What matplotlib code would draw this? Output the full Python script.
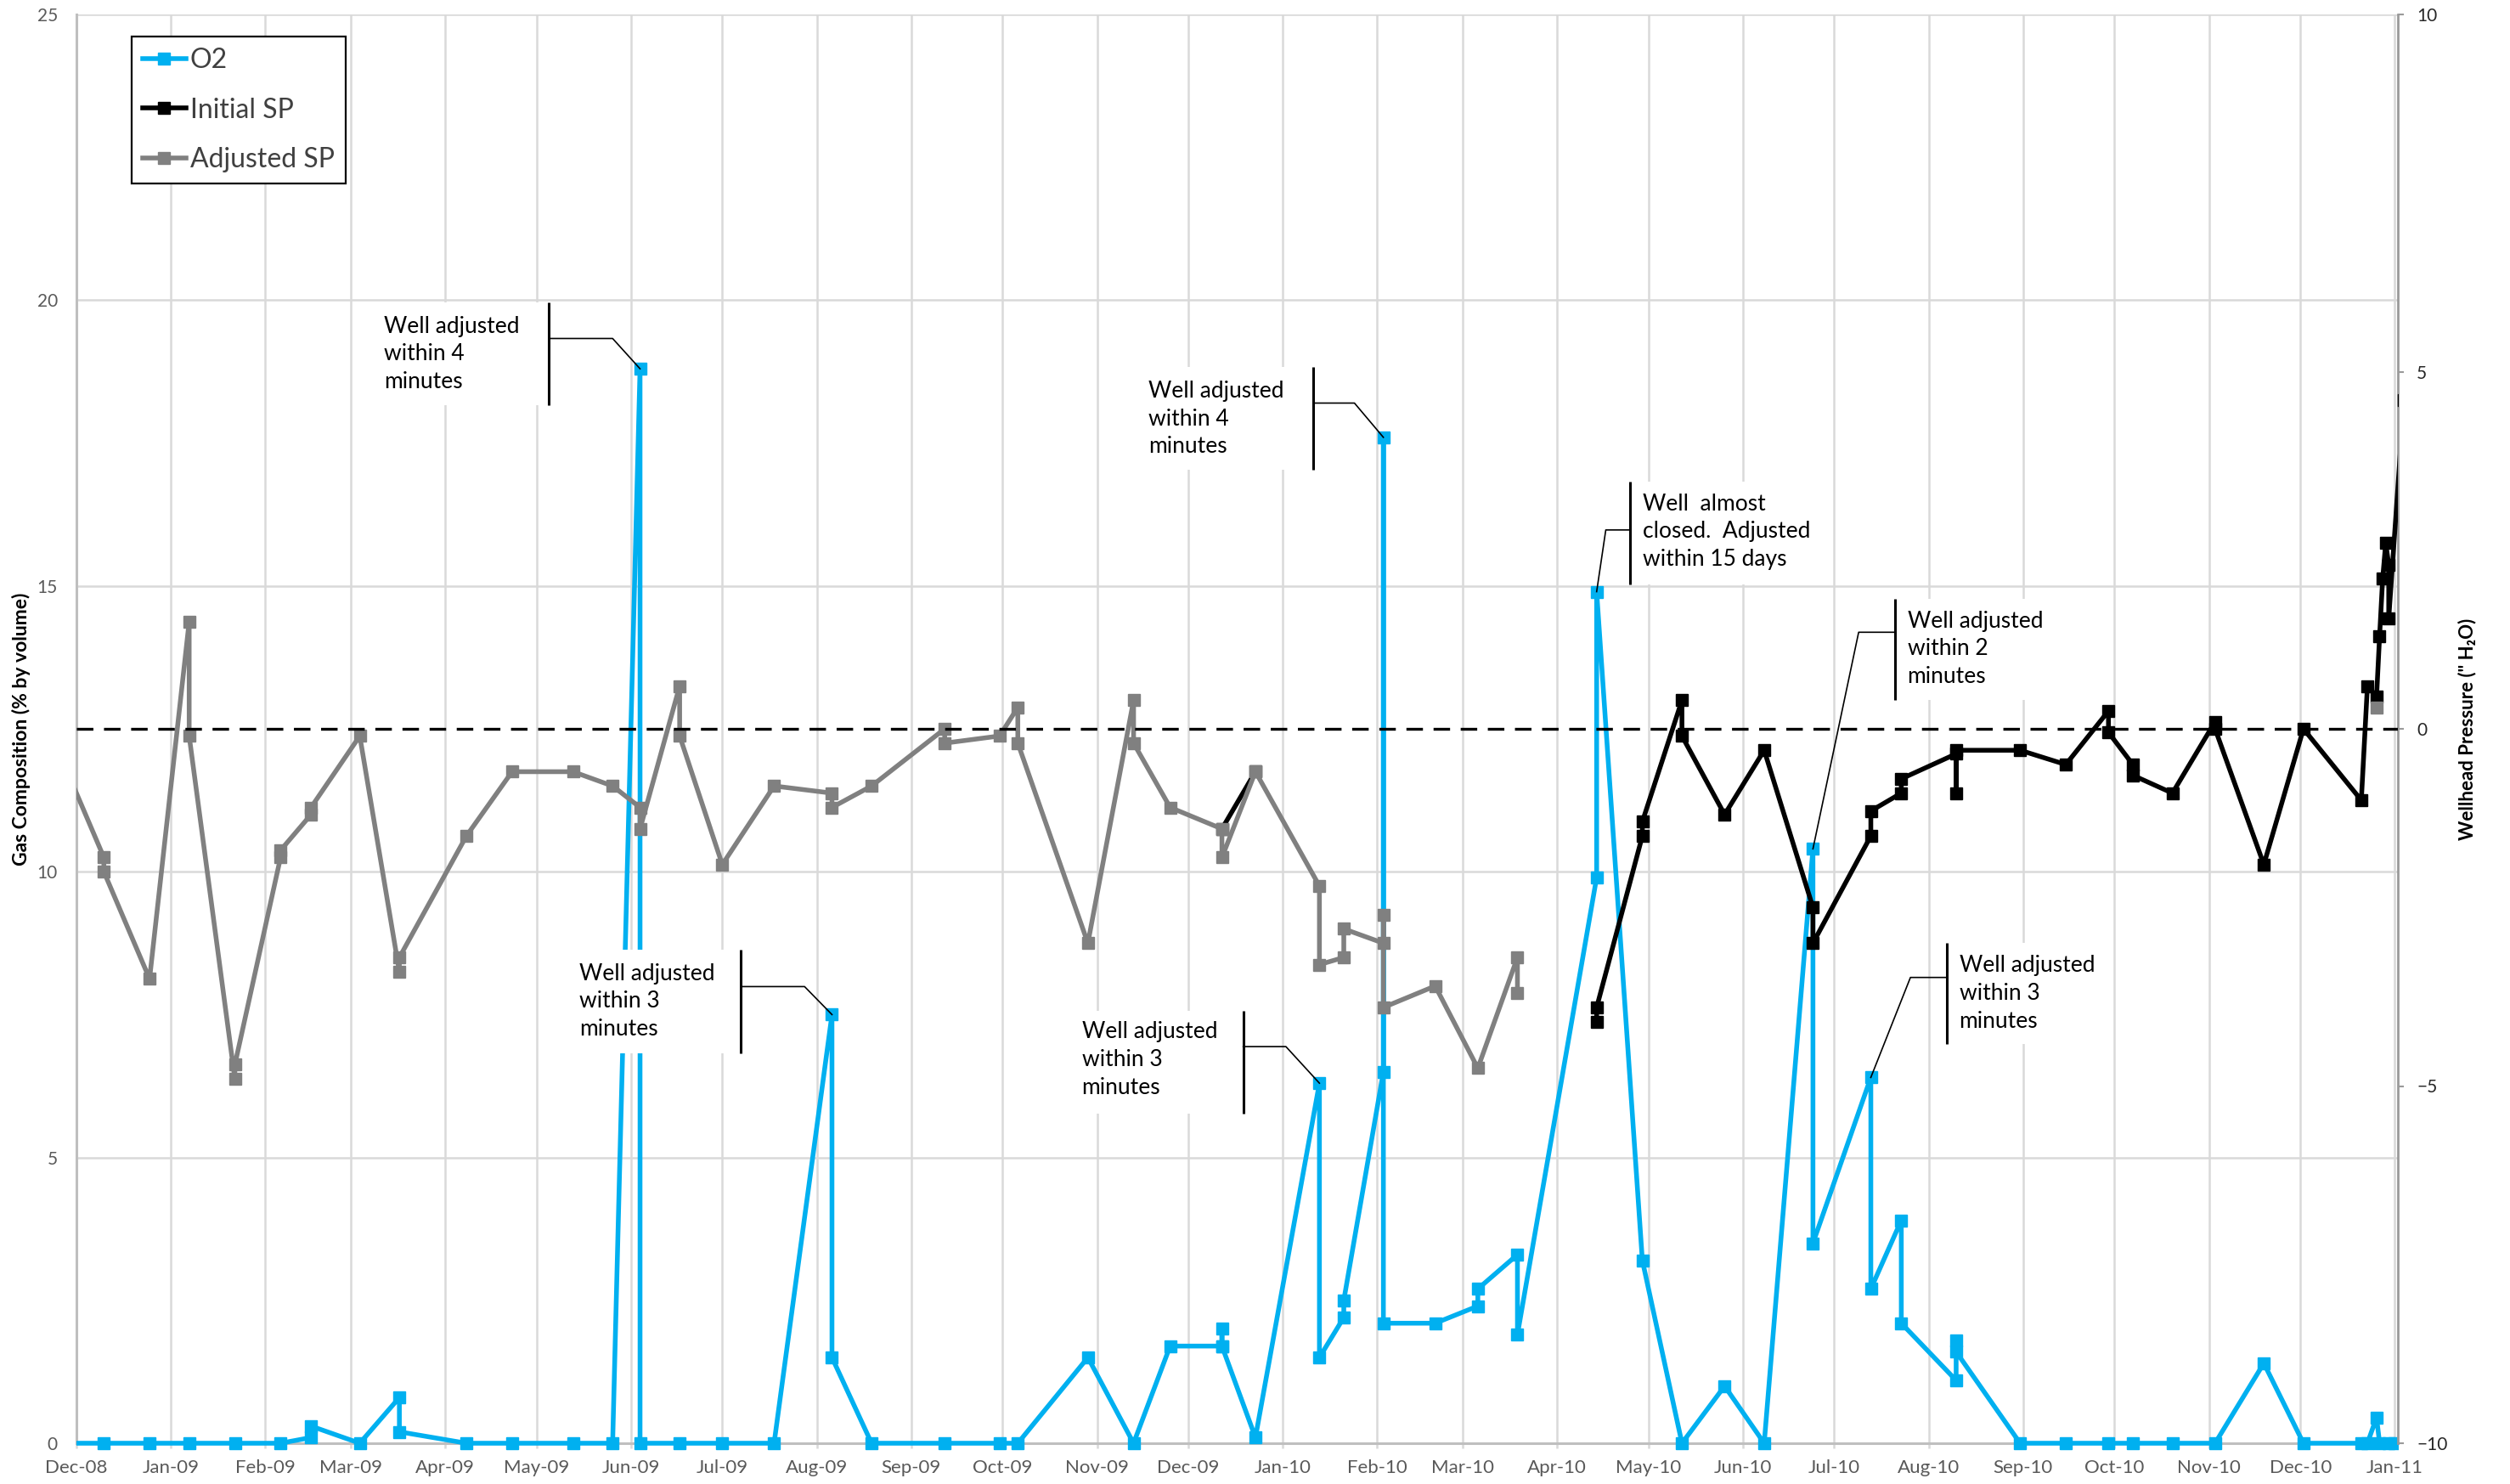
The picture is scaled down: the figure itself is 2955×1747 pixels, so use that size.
import matplotlib
matplotlib.use("Agg")
import matplotlib.pyplot as plt
import matplotlib.dates as mdates
from matplotlib.lines import Line2D
from matplotlib.patches import Rectangle
from matplotlib import font_manager
import numpy as np
import pandas as pd

# ---------------------------------------------------------------- data
o2_dates = [
    "2008-11-25", "2008-12-10", "2008-12-25", "2009-01-07", "2009-01-22",
    "2009-02-06", "2009-02-16", "2009-02-16", "2009-03-04", "2009-03-17",
    "2009-03-17", "2009-04-08", "2009-04-23", "2009-05-13", "2009-05-26",
    "2009-06-04", "2009-06-04", "2009-06-17", "2009-07-01", "2009-07-18",
    "2009-08-06", "2009-08-06", "2009-08-19", "2009-09-12", "2009-09-30",
    "2009-10-06", "2009-10-29", "2009-11-13", "2009-11-25", "2009-12-12",
    "2009-12-12", "2009-12-12", "2009-12-23", "2010-01-13", "2010-01-13",
    "2010-01-21", "2010-01-21", "2010-02-03", "2010-02-03", "2010-02-03",
    "2010-02-20", "2010-03-06", "2010-03-06", "2010-03-19", "2010-03-19",
    "2010-04-14", "2010-04-14", "2010-04-29", "2010-05-12", "2010-05-26",
    "2010-06-08", "2010-06-24", "2010-06-24", "2010-07-13", "2010-07-13",
    "2010-07-23", "2010-07-23", "2010-08-10", "2010-08-10", "2010-08-10",
    "2010-08-31", "2010-09-15", "2010-09-29", "2010-10-07", "2010-10-20",
    "2010-11-03", "2010-11-19", "2010-12-02", "2010-12-21", "2010-12-23",
    "2010-12-26", "2010-12-27", "2010-12-30", "2011-01-01",
]
o2_values = [
    0, 0, 0, 0, 0,
    0, 0.1, 0.3, 0, 0.8,
    0.2, 0, 0, 0, 0,
    18.8, 0, 0, 0, 0,
    7.5, 1.5, 0, 0, 0,
    0, 1.5, 0, 1.7, 1.7,
    2.0, 1.7, 0.1, 6.3, 1.5,
    2.2, 2.5, 6.5, 17.6, 2.1,
    2.1, 2.4, 2.7, 3.3, 1.9,
    9.9, 14.9, 3.2, 0, 1.0,
    0, 10.4, 3.5, 6.4, 2.7,
    3.9, 2.1, 1.1, 1.8, 1.6,
    0, 0, 0, 0, 0,
    0, 1.4, 0, 0, 0,
    0.45, 0, 0, 0,
]

initial_sp_dates = [
    "2009-12-12", "2009-12-23", "2010-02-15",
    "2010-04-14", "2010-04-14", "2010-04-29", "2010-04-29", "2010-05-12",
    "2010-05-12", "2010-05-26", "2010-06-08", "2010-06-24", "2010-06-24",
    "2010-07-13", "2010-07-13", "2010-07-23", "2010-07-23", "2010-08-10",
    "2010-08-10", "2010-08-10", "2010-08-31", "2010-09-15", "2010-09-29",
    "2010-09-29", "2010-10-07", "2010-10-07", "2010-10-20", "2010-11-03",
    "2010-11-03", "2010-11-19", "2010-12-02", "2010-12-21", "2010-12-23",
    "2010-12-26", "2010-12-27", "2010-12-28", "2010-12-29", "2010-12-30",
    "2010-12-30", "2011-01-04",
]
initial_sp_values = [
    -1.4, -0.6, np.nan,
    -4.1, -3.9, -1.5, -1.3, 0.4,
    -0.1, -1.2, -0.3, -2.5, -3.0,
    -1.5, -1.15, -0.9, -0.7, -0.35,
    -0.9, -0.3, -0.3, -0.5, 0.25,
    -0.05, -0.5, -0.65, -0.9, 0.1,
    0.0, -1.9, 0.0, -1.0, 0.6,
    0.45, 1.3, 2.1, 2.6, 2.3,
    1.55, 4.6,
]

adjusted_sp_dates = [
    "2008-11-25", "2008-12-10", "2008-12-10", "2008-12-25", "2009-01-07",
    "2009-01-07", "2009-01-22", "2009-01-22", "2009-02-06", "2009-02-06",
    "2009-02-16", "2009-02-16", "2009-03-04", "2009-03-17", "2009-03-17",
    "2009-04-08", "2009-04-23", "2009-05-13", "2009-05-26", "2009-06-04",
    "2009-06-04", "2009-06-17", "2009-06-17", "2009-07-01", "2009-07-18",
    "2009-08-06", "2009-08-06", "2009-08-19", "2009-09-12", "2009-09-12",
    "2009-09-30", "2009-10-06", "2009-10-06", "2009-10-29", "2009-11-13",
    "2009-11-13", "2009-11-25", "2009-12-12", "2009-12-12", "2009-12-23",
    "2010-01-13", "2010-01-13", "2010-01-21", "2010-01-21", "2010-02-03",
    "2010-02-03", "2010-02-03", "2010-02-20", "2010-03-06", "2010-03-19",
    "2010-03-19", "2010-08-01", "2010-12-26",
]
adjusted_sp_values = [
    -0.3, -1.8, -2.0, -3.5, 1.5,
    -0.1, -4.9, -4.7, -1.8, -1.7,
    -1.2, -1.1, -0.1, -3.4, -3.2,
    -1.5, -0.6, -0.6, -0.8, -1.1,
    -1.4, 0.6, -0.1, -1.9, -0.8,
    -0.9, -1.1, -0.8, 0.0, -0.2,
    -0.1, 0.3, -0.2, -3.0, 0.4,
    -0.2, -1.1, -1.4, -1.8, -0.6,
    -2.2, -3.3, -3.2, -2.8, -3.0,
    -2.6, -3.9, -3.6, -4.75, -3.2,
    -3.7, np.nan, 0.3,
]

month_labels = [
    "Dec-08", "Jan-09", "Feb-09", "Mar-09", "Apr-09", "May-09", "Jun-09",
    "Jul-09", "Aug-09", "Sep-09", "Oct-09", "Nov-09", "Dec-09", "Jan-10",
    "Feb-10", "Mar-10", "Apr-10", "May-10", "Jun-10", "Jul-10", "Aug-10",
    "Sep-10", "Oct-10", "Nov-10", "Dec-10", "Jan-11",
]
gas_ticks = [0, 5, 10, 15, 20, 25]
pressure_ticks = [-10, -5, 0, 5, 10]
setpoint_pressure = 0

# callouts: text, target (date, O2 %), box span in days from target,
# vertical box span, leader height, leader bend (days), text anchor
callouts = [
    dict(text="Well adjusted\nwithin 4\nminutes", date="2009-06-04", value=18.8,
         box=(-88, -30), ybox=(18.17, 19.96), lead_y=19.33, bend=-9,
         tx=-84, ty=19.06, bar="right"),
    dict(text="Well adjusted\nwithin 3\nminutes", date="2009-08-06", value=7.5,
         box=(-87, -30), ybox=(6.82, 8.64), lead_y=7.99, bend=-9,
         tx=-83, ty=7.73, bar="right"),
    dict(text="Well adjusted\nwithin 3\nminutes", date="2010-01-13", value=6.3,
         box=(-83, -25), ybox=(5.77, 7.56), lead_y=6.94, bend=-11,
         tx=-78, ty=6.71, bar="right"),
    dict(text="Well adjusted\nwithin 4\nminutes", date="2010-02-03", value=17.6,
         box=(-81, -23), ybox=(17.03, 18.83), lead_y=18.2, bend=-9.5,
         tx=-77, ty=17.92, bar="right"),
    dict(text="Well  almost\nclosed.  Adjusted\nwithin 15 days", date="2010-04-14",
         value=14.9, box=(11, 76), ybox=(15.03, 16.83), lead_y=15.98, bend=3,
         tx=15, ty=15.95, bar="left"),
    dict(text="Well adjusted\nwithin 2\nminutes", date="2010-06-24", value=10.4,
         box=(27, 80), ybox=(13.0, 14.78), lead_y=14.19, bend=15,
         tx=31, ty=13.9, bar="left"),
    dict(text="Well adjusted\nwithin 3\nminutes", date="2010-07-13", value=6.4,
         box=(25, 77), ybox=(6.98, 8.75), lead_y=8.15, bend=13,
         tx=29, ty=7.87, bar="left"),
]

# ---------------------------------------------------------------- style
names = {f.name for f in font_manager.fontManager.ttflist}
base_font = "Lato" if "Lato" in names else "DejaVu Sans"
narrow_font = "Liberation Sans Narrow" if "Liberation Sans Narrow" in names else base_font
plt.rcParams["font.family"] = [base_font, "DejaVu Sans"]
plt.rcParams["lines.scale_dashes"] = False

BLUE = "#00B0F0"
GRAY = "#808080"
BLACK = "#000000"
GRID = "#D9D9D9"

fig = plt.figure(figsize=(29.55, 17.47), dpi=100)
L, R, B, T = 90 / 2955, 2823 / 2955, 48 / 1747, 1730 / 1747
ax = fig.add_axes([L, B, R - L, T - B])
ax2 = ax.twinx()

x_start, x_end = pd.Timestamp("2008-12-01"), pd.Timestamp("2011-01-02")
ax.set_xlim(x_start, x_end)
ax.set_ylim(0, 25)
ax2.set_ylim(-10, 10)

month_ticks = pd.date_range("2008-12-01", periods=len(month_labels), freq="MS")
ax.set_xticks(month_ticks)
ax.set_xticklabels(month_labels)
ax.set_yticks(gas_ticks)
ax2.set_yticks(pressure_ticks)

ax.grid(True, color=GRID, linewidth=1.8)
ax.set_axisbelow(True)

for s in ("top", "right"):
    ax.spines[s].set_visible(False)
for s in ("left", "bottom"):
    ax.spines[s].set_color("#BFBFBF")
    ax.spines[s].set_linewidth(2.2)
for s in ("top", "left", "bottom"):
    ax2.spines[s].set_visible(False)
ax2.spines["right"].set_color("#9A9A9A")
ax2.spines["right"].set_linewidth(2.0)

ax.tick_params(axis="x", length=4.5, width=1.8, color=GRID, labelsize=16,
               labelcolor="#595959", pad=9)
ax.tick_params(axis="y", length=0, labelsize=15, labelcolor="#595959", pad=16)
ax2.tick_params(axis="y", length=5, width=1.5, color="#9A9A9A", labelsize=15,
                labelcolor="#262626", pad=11)

# ---------------------------------------------------------------- series
mk = dict(marker="s", markersize=9.5, linewidth=4.0)
o2_line, = ax.plot(pd.to_datetime(o2_dates), o2_values, color=BLUE,
                   markerfacecolor=BLUE, markeredgecolor=BLUE, zorder=3, **mk)
o2_line.set_clip_path(Rectangle((0, -0.01), 1, 1.02, transform=ax.transAxes))

ax2.plot(pd.to_datetime(initial_sp_dates), initial_sp_values, color=BLACK,
         markerfacecolor=BLACK, markeredgecolor=BLACK, zorder=4, **mk)
ax2.plot(pd.to_datetime(adjusted_sp_dates), adjusted_sp_values, color=GRAY,
         markerfacecolor=GRAY, markeredgecolor=GRAY, zorder=5, **mk)

ax2.axhline(setpoint_pressure, color=BLACK, linewidth=2.4, dashes=(14, 9), zorder=6)

# ---------------------------------------------------------------- callouts
tr = ax.transData
for c in callouts:
    t0 = pd.Timestamp(c["date"])
    xt = mdates.date2num(t0)
    x0, x1 = xt + c["box"][0], xt + c["box"][1]
    y0, y1 = c["ybox"]
    ax2.add_patch(Rectangle((x0, y0), x1 - x0, y1 - y0, transform=tr,
                            facecolor="white", edgecolor="none", zorder=10,
                            clip_on=False))
    xbar = x1 if c["bar"] == "right" else x0
    ax2.plot([xbar, xbar], [y0, y1], transform=tr, color=BLACK, lw=2.2,
             zorder=11, clip_on=False, solid_capstyle="butt")
    ax2.plot([xbar, xt + c["bend"], xt], [c["lead_y"], c["lead_y"], c["value"]],
             transform=tr, color=BLACK, lw=1.2, zorder=11, clip_on=False)
    ax2.text(xt + c["tx"], c["ty"], c["text"], transform=tr, fontsize=19,
             ha="left", va="center", linespacing=1.38, color=BLACK, zorder=12)

# ---------------------------------------------------------------- legend
handles = [
    Line2D([], [], color=BLUE, **mk),
    Line2D([], [], color=BLACK, **mk),
    Line2D([], [], color=GRAY, **mk),
]
leg = ax2.legend(handles, ["O2", "Initial SP", "Adjusted SP"], loc="upper left",
                 bbox_to_anchor=(0.0238, 0.9845), borderaxespad=0, fontsize=23,
                 frameon=True, fancybox=False, framealpha=1, edgecolor=BLACK,
                 handlelength=1.6, handletextpad=0.15, labelspacing=0.9,
                 borderpad=0.4)
leg.get_frame().set_linewidth(1.6)
leg.set_zorder(20)
for t in leg.get_texts():
    t.set_color("#404040")

# ---------------------------------------------------------------- axis titles
fig.text(25 / 2955, 1 - 858 / 1747, "Gas Composition (% by volume)", rotation=90,
         ha="center", va="center", fontsize=16.5, fontweight="bold", color=BLACK)
fig.text(2905 / 2955, 1 - 858 / 1747, "Wellhead Pressure (\" H\u2082O)", rotation=90,
         ha="center", va="center", fontsize=16, fontweight="bold", color=BLACK,
         family=[narrow_font, "DejaVu Sans"])

fig.savefig("out.png", dpi=100)
